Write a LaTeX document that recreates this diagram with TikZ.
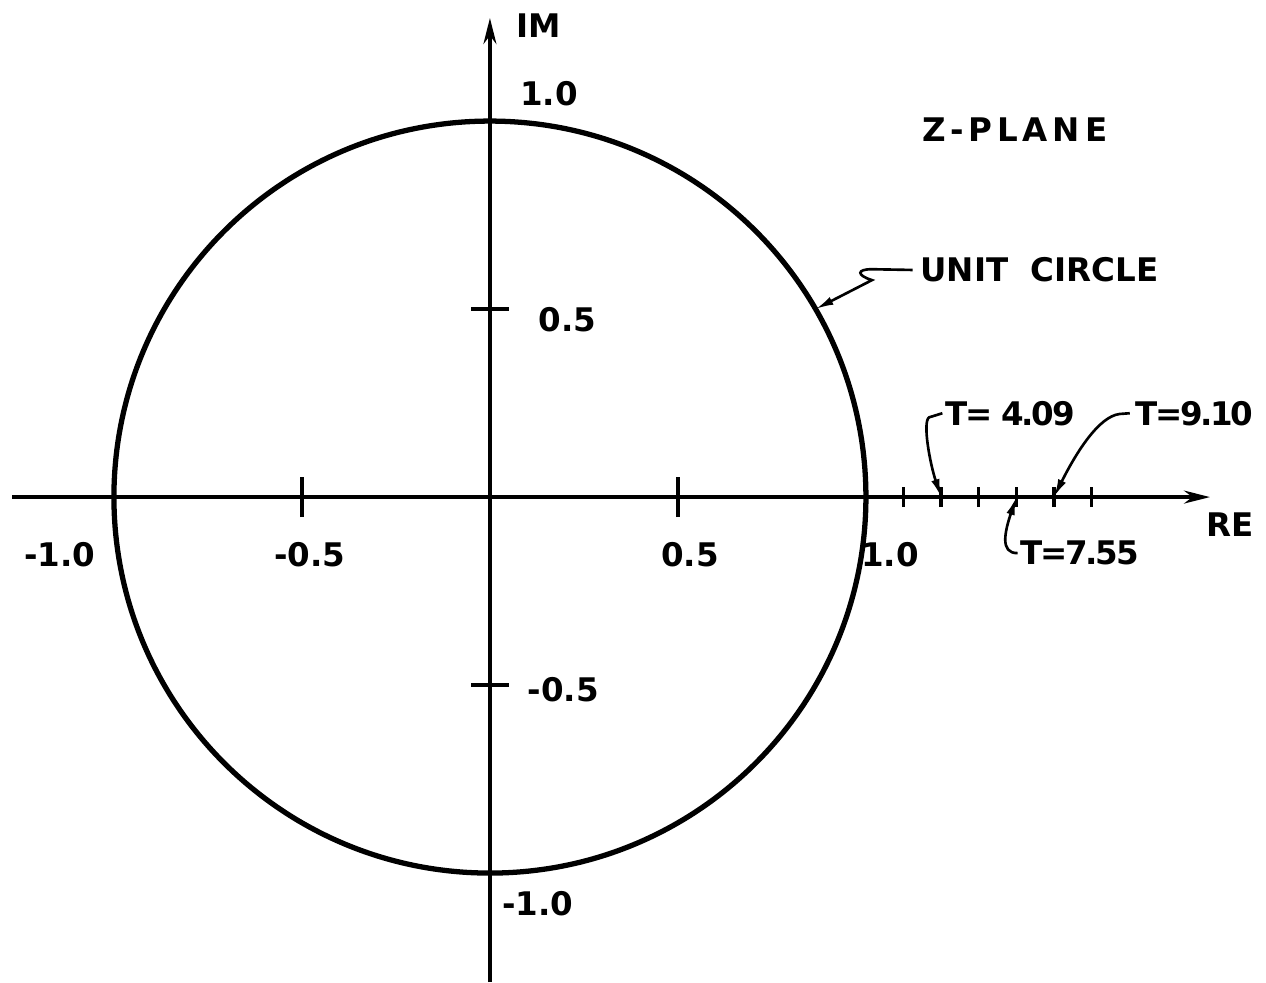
\documentclass[tikz,border=0pt]{standalone}
\usepackage{fontspec}
\setmainfont{DejaVu Sans}
\usetikzlibrary{arrows.meta}
\begin{document}
\begin{tikzpicture}[x=7.52cm, y=7.52cm,
      lbl/.style={font=\fontsize{18.5}{22}\selectfont\bfseries, inner sep=0pt},
      tlbl/.style={lbl, anchor=west, font=\fontsize{18.5}{22}\selectfont\bfseries\addfontfeatures{LetterSpace=-7}},
      axisline/.style={line width=1.9pt, -{Stealth[length=0.52cm, width=0.26cm]}},
      tickline/.style={line width=1.9pt},
      lead/.style={line width=1.5pt, -{Latex[length=0.36cm, width=0.17cm]}}
    ]
    \useasboundingbox (-1.303,-1.290) rectangle (2.064,1.322);
    \coordinate (O) at (0,0);
    \draw[axisline] (-1.271,0) -- (1.915,0);
    \draw[axisline] (0,-1.29) -- (0,1.274);
    \draw[line width=3pt] (O) circle (1);
    \foreach \x in {-0.5,0.5} {
      \draw[tickline] (\x,-0.053) -- (\x,0.053);
    }
    \foreach \y in {-0.5,0.5} {
      \draw[tickline] (-0.05,\y) -- (0.05,\y);
    }
    \foreach \i in {11,...,16} {
      \coordinate (p\i) at (\i/10,0);
      \draw[tickline] (\i/10,-0.027) -- (\i/10,0.027);
    }
    \foreach \x/\txt/\nm in {-1.144/-1.0/xmone,-0.479/-0.5/xmhalf,0.532/0.5/xhalf,1.064/1.0/xone} {
      \node[lbl] (\nm) at (\x,-0.154) {\txt};
    }
    \foreach \x/\y/\txt/\nm in {0.08/1.074/1.0/yone,0.128/0.471/0.5/yhalf,0.10/-0.513/-0.5/ymhalf,0.032/-1.08/-1.0/ymone} {
      \node[lbl, anchor=west] (\nm) at (\x,\y) {\txt};
    }
    \node[lbl, anchor=west] (im) at (0.07,1.255) {IM};
    \node[lbl] (re) at (1.968,-0.074) {RE};
    \node[lbl] (zplane) at (1.396,0.976) {\addfontfeatures{LetterSpace=15}Z-PLANE};
    \node[lbl, anchor=west] (unit) at (1.144,0.604) {UNIT\ \ CIRCLE};
    \node[tlbl] (t409) at (1.210,0.223) {T= 4.09};
    \node[tlbl] (t910) at (1.715,0.223) {T=9.10};
    \node[tlbl] (t755) at (1.41,-0.149) {T=7.55};
    \draw[lead] ([xshift=-0.15cm]unit.west) -- (1.016,0.606)
      .. controls (0.975,0.606) and (0.975,0.59) .. (1.016,0.577) -- (30:1);
    \draw[lead] ([xshift=-0.05cm]t409.west) -- (1.168,0.212)
      .. controls (1.15,0.2) and (1.17,0.09) .. (p12);
    \draw[lead] ([xshift=-0.1cm]t910.west) -- (1.675,0.221)
      .. controls (1.62,0.215) and (1.56,0.12) .. (p15);
    \draw[lead] ([xshift=-0.05cm]t755.west)
      .. controls (1.355,-0.15) and (1.37,-0.09) .. (p14);
  \end{tikzpicture}
\end{document}
